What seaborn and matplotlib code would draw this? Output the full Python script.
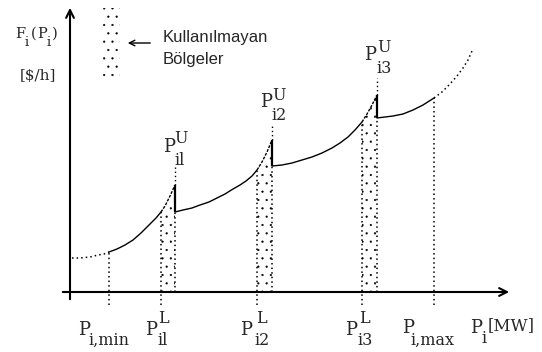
import matplotlib
matplotlib.use("Agg")
import matplotlib.pyplot as plt
from matplotlib.patches import Rectangle
import seaborn as sns

# birim: x = P_i [MW], y = F_i(P_i) [$/h] (şematik)
p_min = 39
p_max = 364
p_low = [91, 187, 292]
p_up = [105, 202, 307]
f_up_top = [107, 152, 197]   # yasak bölgenin üst ucu
f_up_bot = [80, 126, 174]    # düşüşten sonraki maliyet

# eğri parçaları
alt_x = [2, 10, 20, 28, 34, 39]
alt_y = [34, 34, 35, 37, 38, 40]
seg1_x = [39, 47, 55, 63, 71, 80, 86, 91]
seg1_y = [40, 43, 47, 52, 59, 68, 74, 80]
bolge1_x = [91, 95, 100, 105]
bolge1_y = [80, 86, 96, 107]
seg2_x = [105, 113, 122, 130, 139, 147, 155, 163, 170, 176, 182, 187]
seg2_y = [80, 82, 84, 87, 90, 94, 98, 103, 107, 111, 116, 122]
bolge2_x = [187, 192, 197, 202]
bolge2_y = [122, 130, 140, 152]
seg3_x = [202, 212, 222, 232, 242, 252, 262, 270, 278, 285, 292]
seg3_y = [126, 127, 129, 132, 135, 139, 144, 149, 155, 162, 170]
bolge3_x = [292, 297, 302, 307]
bolge3_y = [170, 178, 187, 197]
seg4_x = [307, 315, 323, 333, 343, 353, 364]
seg4_y = [174, 175, 176, 178, 182, 187, 194]
ust_x = [364, 372, 380, 387, 393, 398, 402]
ust_y = [194, 200, 208, 216, 224, 232, 241]

nokta = (0, (1, 2))

sns.set_style("white")
plt.rcParams["font.family"] = ["DejaVu Serif"]
plt.rcParams["hatch.linewidth"] = 0.35

fig = plt.figure(figsize=(5.42, 3.52), dpi=100)
ax = fig.add_axes([0, 0, 1, 1])
ax.set_xlim(-70, 472)
ax.set_ylim(-60, 292)
ax.axis("off")

# yasak bölgeler (noktalı alan)
for bx, by in [(bolge1_x, bolge1_y), (bolge2_x, bolge2_y), (bolge3_x, bolge3_y)]:
    ax.fill_between(bx, 0, by, facecolor="none", edgecolor="black",
                    hatch="..", linewidth=0)

# maliyet eğrisi
for sx, sy in [(seg1_x, seg1_y), (seg2_x, seg2_y), (seg3_x, seg3_y), (seg4_x, seg4_y)]:
    sns.lineplot(x=sx, y=sy, ax=ax, color="black", linewidth=1.0)
for sx, sy in [(alt_x, alt_y), (ust_x, ust_y)]:
    sns.lineplot(x=sx, y=sy, ax=ax, color="black", linewidth=1.1, linestyle=nokta)
for sx, sy in [(bolge1_x, bolge1_y), (bolge2_x, bolge2_y), (bolge3_x, bolge3_y)]:
    sns.lineplot(x=sx, y=sy, ax=ax, color="black", linewidth=1.0, linestyle=(0, (2, 1)))

# düşüşler
ax.vlines(p_up, f_up_bot, f_up_top, color="black", linewidth=1.6)

# dikey noktalı çizgiler
ax.vlines(p_low, -13, [seg1_y[-1], seg2_y[-1], seg3_y[-1]], color="black",
          linewidth=1.1, linestyles=nokta)
ax.vlines(p_up, 0, f_up_bot, color="black", linewidth=1.1, linestyles=nokta)
ax.vlines([p_min, p_max], -13, [seg1_y[0], seg4_y[-1]], color="black",
          linewidth=1.1, linestyles=nokta)
ax.vlines(p_up, f_up_top, [125, 167, 214], color="black", linewidth=1.0,
          linestyles=nokta)

# eksenler
ok = dict(arrowstyle="->", color="black", linewidth=1.5, mutation_scale=14)
ax.annotate("", xy=(0, 287), xytext=(0, -10), arrowprops=ok)
ax.annotate("", xy=(442, 0), xytext=(-10, 0), arrowprops=ok)

# açıklama kutusu
ax.add_patch(Rectangle((32, 214), 18, 70, facecolor="none", edgecolor="black",
                       hatch="..", linewidth=0))
ax.annotate("", xy=(55, 249), xytext=(83, 249),
            arrowprops=dict(arrowstyle="->", color="black", linewidth=1.0,
                            mutation_scale=10))
sans = ["Liberation Sans", "DejaVu Sans"]
ax.text(93, 250, "Kullanılmayan", family=sans, fontsize=12, va="baseline")
ax.text(93, 228, "Bölgeler", family=sans, fontsize=12, va="baseline")


def etiket(x, y, sub, sup=None, sx=12, sy=-10, ux=13, uy=12, fs=13, fs2=11.5):
    ax.text(x, y, "P", fontsize=fs, va="baseline")
    ax.text(x + sx, y + sy, sub, fontsize=fs2, va="baseline")
    if sup:
        ax.text(x + ux, y + uy, sup, fontsize=fs2, va="baseline")


# y ekseni etiketi
ax.text(-55, 254, "F", fontsize=10.5, va="baseline")
ax.text(-45, 246, "i", fontsize=9.5, va="baseline")
ax.text(-39, 254, "(", fontsize=10.5, va="baseline")
ax.text(-33, 254, "P", fontsize=10.5, va="baseline")
ax.text(-23, 246, "i", fontsize=9.5, va="baseline")
ax.text(-18, 254, ")", fontsize=10.5, va="baseline")
ax.text(-50, 212, "[$/h]", fontsize=11, va="baseline")

# alt etiketler
etiket(8, -43, "i,min", sx=10, sy=-10)
etiket(75, -43, "il", "L")
etiket(170, -43, "i2", "L", sx=14, ux=16)
etiket(275, -43, "i3", "L", sx=12, ux=14)
etiket(332, -41, "i,max", sx=8, sy=-12)
etiket(400, -41, "i", sx=11, sy=-10)
ax.text(418, -38, "[MW]", fontsize=12, va="baseline")

# üst etiketler
etiket(93, 140, "il", "U", sx=11, sy=-13, ux=11, uy=9)
etiket(190, 185, "i2", "U", sx=11, sy=-13, ux=12, uy=7)
etiket(294, 232, "i3", "U", sx=12, sy=-13, ux=13, uy=8)

fig.savefig("out.png", dpi=100)
